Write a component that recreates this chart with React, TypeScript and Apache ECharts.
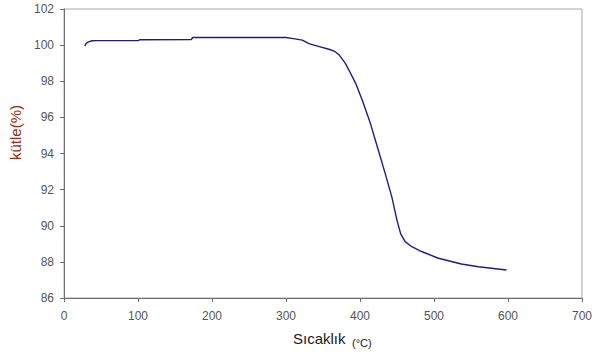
import React, { useEffect, useRef } from "react";
import * as echarts from "echarts";

const temperatures = [28, 30, 33, 38, 45, 100, 103, 172, 174, 300, 310, 322, 331, 345, 358, 366, 372, 380, 385, 394, 403, 414, 424, 434, 443, 450, 455, 461, 470, 484, 506, 537, 560, 598];
const masses = [99.95, 100.1, 100.18, 100.24, 100.25, 100.25, 100.3, 100.31, 100.42, 100.42, 100.36, 100.28, 100.08, 99.92, 99.77, 99.65, 99.45, 99.0, 98.62, 97.9, 96.96, 95.67, 94.29, 92.9, 91.6, 90.3, 89.55, 89.12, 88.84, 88.56, 88.2, 87.88, 87.73, 87.55];

const xName = "Sıcaklık";
const xUnit = "(°C)";
const yName = "kütle(%)";

export default function App() {
  const ref = useRef<HTMLDivElement>(null);
  useEffect(() => {
    if (!ref.current) return;
    const chart = echarts.init(ref.current, null, { renderer: "svg" });
    const data = temperatures.map((t, i) => [t, masses[i]]);
    chart.setOption({
      animation: false,
      grid: {
        left: 64,
        right: 11,
        top: 9,
        bottom: 60,
        show: true,
        borderColor: "#a8a8a8",
        borderWidth: 1,
      },
      xAxis: {
        type: "value",
        min: 0,
        max: 700,
        interval: 100,
        axisLine: { show: true, lineStyle: { color: "#6e6e6e", width: 1 } },
        axisTick: { show: true, inside: false, length: 4, lineStyle: { color: "#6e6e6e" } },
        axisLabel: { color: "#555", fontSize: 12, fontFamily: "Liberation Sans, Arial", margin: 12 },
        splitLine: { show: false },
      },
      yAxis: {
        type: "value",
        min: 86,
        max: 102,
        interval: 2,
        name: yName,
        nameLocation: "middle",
        nameRotate: 90,
        nameGap: 38,
        nameTextStyle: {
          color: "#9a2a14",
          fontSize: 15,
          fontFamily: "Liberation Sans, Arial",
          padding: [0, 0, 0, 42],
        },
        axisLine: { show: true, lineStyle: { color: "#6e6e6e", width: 1 } },
        axisTick: { show: true, inside: false, length: 4, lineStyle: { color: "#6e6e6e" } },
        axisLabel: { color: "#555", fontSize: 12, fontFamily: "Liberation Sans, Arial", margin: 10 },
        splitLine: { show: false },
      },
      series: [
        {
          type: "line",
          data,
          showSymbol: false,
          symbol: "none",
          lineStyle: { color: "#1c1c8f", width: 1.4 },
        },
      ],
      graphic: [
        {
          type: "text",
          x: 293,
          y: 338,
          style: {
            text: xName,
            fill: "#1a1a1a",
            font: "15px 'Liberation Sans', Arial",
            verticalAlign: "middle",
            align: "left",
          },
        },
        {
          type: "text",
          x: 352,
          y: 343,
          style: {
            text: xUnit,
            fill: "#1a1a1a",
            font: "11px 'Liberation Sans', Arial",
            verticalAlign: "middle",
            align: "left",
          },
        },
      ],
    });
    return () => chart.dispose();
  }, []);
  return <div ref={ref} style={{ width: 595, height: 358, position: "absolute", left: 0, top: 0, background: "#fff" }} />;
}
